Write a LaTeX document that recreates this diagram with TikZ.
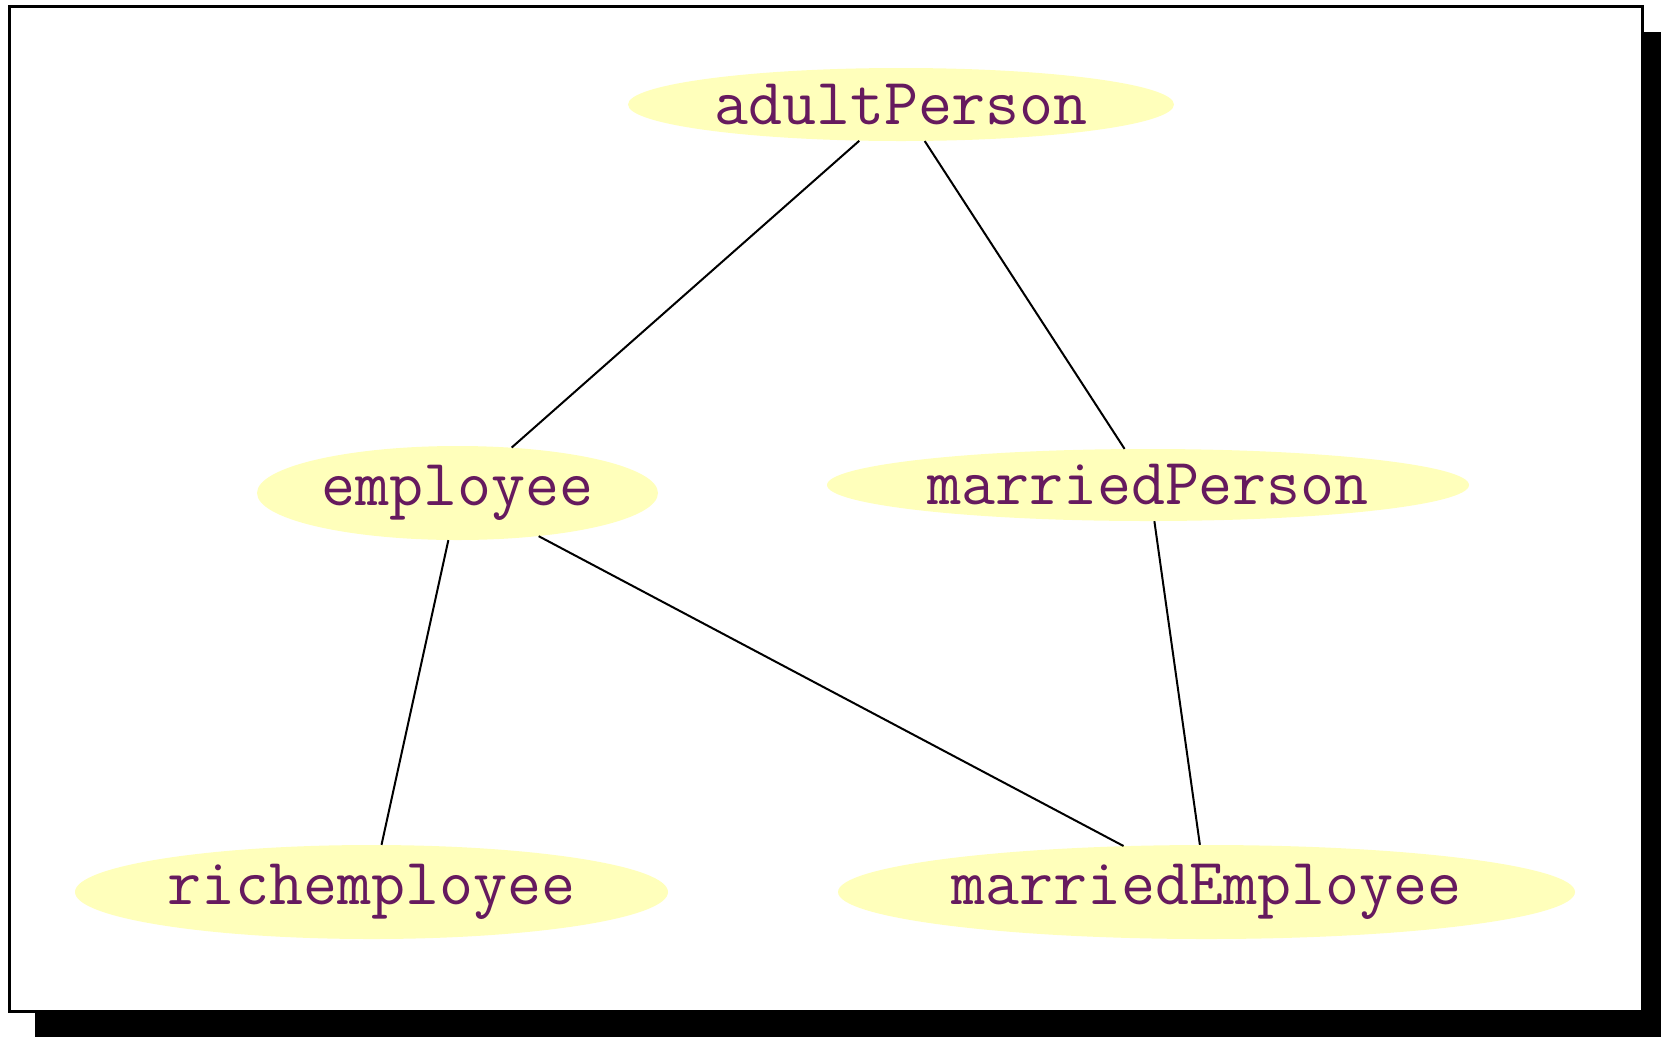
\documentclass[tikz,border=0pt]{standalone}
\usetikzlibrary{shapes.geometric}
\definecolor{txtc}{RGB}{102,26,94}
\definecolor{fillc}{RGB}{255,255,187}
\tikzset{
  cls/.style={ellipse, fill=fillc, draw=none, inner sep=0pt, text=txtc,
    font=\fontsize{66}{70}\selectfont\ttfamily},
  edge/.style={line width=2pt, black},
}
\begin{document}
\begin{tikzpicture}[x=1pt,y=-1pt]
\useasboundingbox (0,0) rectangle (1661,1037);
\fill[black] (35,32) rectangle (1661,1037);
\draw[line width=3pt, fill=white] (9.5,6.5) rectangle (1642,1011);
\node[cls, minimum width=546pt, minimum height=73pt] (ap) at (901,104.5) {adultPerson};
\node[cls, minimum width=401pt, minimum height=94pt] (em) at (457.5,493) {employee};
\node[cls, minimum width=642pt, minimum height=72pt] (mp) at (1148,485) {marriedPerson};
\node[cls, minimum width=593pt, minimum height=94pt] (re) at (371.5,892) {richemployee};
\node[cls, minimum width=737pt, minimum height=94pt] (me) at (1206.5,892) {marriedEmployee};
\draw[edge] (ap.-139) -- (em.40.6);
\draw[edge] (ap.-57) -- (mp.123);
\draw[edge] (em.-101.4) -- (re.78.3);
\draw[edge] (em.-28.7) -- (me.151.7);
\draw[edge] (mp.-80.5) -- (me.98);
\end{tikzpicture}
\end{document}
